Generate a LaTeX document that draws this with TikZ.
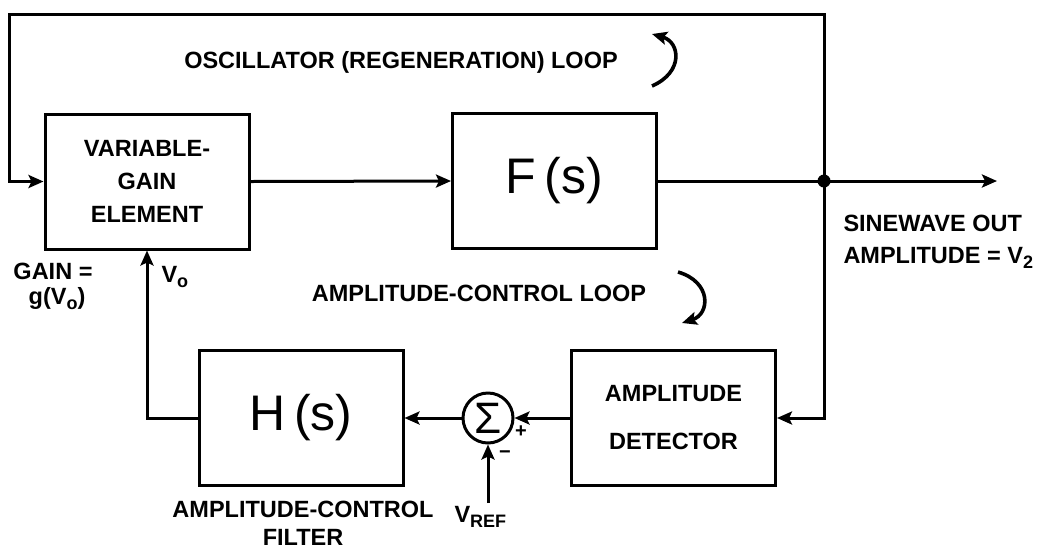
\documentclass[tikz,border=0pt]{standalone}
\usepackage{fontspec}
\setmainfont{Liberation Sans}
\usetikzlibrary{arrows.meta}
\newcommand{\lowsub}[1]{\raisebox{-0.45ex}{\fontsize{18}{18}\selectfont #1}}
\begin{document}
\begin{tikzpicture}[x=1pt,y=-1pt,
  line width=3pt,
  >={Stealth[length=15pt,width=13pt,inset=3pt]},
  blk/.style={draw, line width=3pt, minimum width=204pt, minimum height=135pt, inner sep=0pt, align=center},
  lbl/.style={font=\fontsize{23.5}{26}\selectfont\bfseries, inner sep=0pt},
  big/.style={font=\fontsize{50}{54}\selectfont},
  sgn/.style={font=\fontsize{20}{20}\selectfont\bfseries, inner sep=0pt},
  loop/.style={line width=3.6pt, ->}
]
\useasboundingbox (0,0) rectangle (1049,550);

% blocks
\node[blk, font=\fontsize{23.5}{33}\selectfont\bfseries] (vge) at (147,181.5) {VARIABLE-\\GAIN\\ELEMENT};
\node[blk, big] (F) at (554.5,181) {F\,(s)};
\node[blk, big] (H) at (301,418) {H\,(s)};
\node[blk, font=\fontsize{23.5}{48}\selectfont\bfseries] (AD) at (673.5,418) {AMPLITUDE\\DETECTOR};
\node[draw, circle, minimum size=50pt, inner sep=0pt, line width=3pt, font=\fontsize{44}{44}\selectfont] (sum) at (488,418) {Σ};

% coordinates
\coordinate (J) at (824,181);
\coordinate (tl) at (9,14);
\coordinate (out) at (997,181);
\coordinate (vref) at (488,503);

% connectors
\draw[->] (J) |- (tl) |- (vge.west);
\draw[->] (vge.east) -- (F.west);
\draw[->] (F.east) -- (out);
\fill (J) circle (6.5);
\draw[->] (J) |- (AD.east);
\draw[->] (AD.west) -- (sum.east);
\draw[->] (sum.west) -- (H.east);
\draw[->] (H.west) -| (vge.south);
\draw[->] (vref) -- (sum.south);

% loop arrows
\draw[loop] (652,86) .. controls (684,72) and (680,42) .. (652,34);
\draw[loop] (678,272) .. controls (712,282) and (710,314) .. (682,323);

% labels
\node[lbl] (osc) at (401,62) {OSCILLATOR (REGENERATION) LOOP};
\node[lbl] (acl) at (479,293) {AMPLITUDE-CONTROL LOOP};
\node[lbl, anchor=base west] (sw) at (842,231) {SINEWAVE OUT};
\node[lbl, anchor=base west] (amp) at (842,263) {AMPLITUDE = V\lowsub{2}};
\node[lbl, anchor=base] (gain) at (53,279) {GAIN =};
\node[lbl, anchor=base] (gv) at (57,304) {g(V\lowsub{o})};
\node[lbl, anchor=base west] (vo) at (160,282) {V\lowsub{o}};
\node[lbl, anchor=base] (acf) at (303,517) {AMPLITUDE-CONTROL};
\node[lbl, anchor=base] (fil) at (303,545) {FILTER};
\node[lbl, anchor=base west] (vr) at (453,522) {V\lowsub{REF}};
\node[sgn] (plus) at (521,432) {+};
\node[sgn] (minus) at (505,455) {−};
\end{tikzpicture}
\end{document}
